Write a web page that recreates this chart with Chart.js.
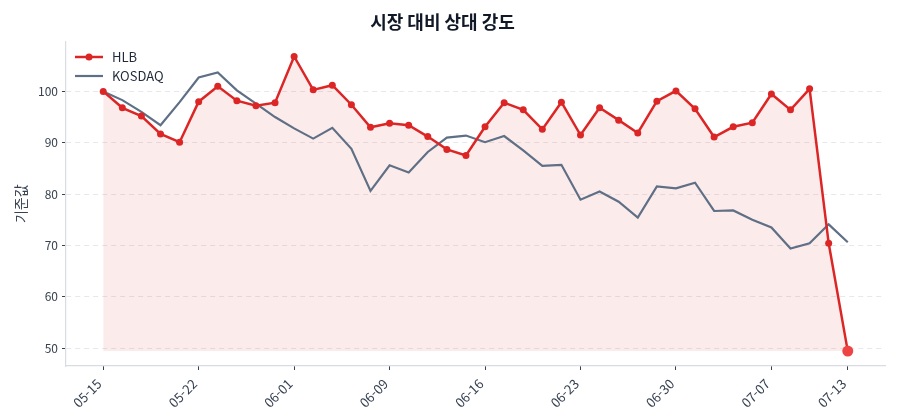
<!DOCTYPE html>
<html lang="ko">
<head>
  <meta charset="UTF-8">
  <title>시장 대비 상대 강도</title>
  <script src="https://cdn.jsdelivr.net/npm/chart.js"></script>
  <style>
    html, body { margin: 0; padding: 0; background: #fff; }
    #wrap { width: 900px; height: 420px; }
  </style>
</head>
<body>
  <div id="wrap"><canvas id="rsChart" width="900" height="420"></canvas></div>

  <script>
    const dates = [
      '05-15', '05-16', '05-17', '05-20', '05-21', '05-22', '05-23', '05-24', '05-27', '05-29',
      '06-01', '06-03', '06-04', '06-05', '06-07', '06-09', '06-10', '06-11', '06-12', '06-13',
      '06-16', '06-17', '06-18', '06-19', '06-20', '06-23', '06-24', '06-25', '06-26', '06-27',
      '06-30', '07-01', '07-02', '07-03', '07-04', '07-07', '07-08', '07-09', '07-10', '07-13'
    ];
    const hlb = [
      100.0, 96.8, 95.2, 91.7, 90.1, 98.0, 101.0, 98.2, 97.2, 97.8,
      106.8, 100.3, 101.2, 97.4, 93.0, 93.8, 93.4, 91.2, 88.7, 87.5,
      93.1, 97.8, 96.4, 92.6, 97.9, 91.5, 96.8, 94.4, 91.9, 98.1,
      100.1, 96.6, 91.1, 93.1, 93.9, 99.5, 96.4, 100.5, 70.4, 49.4
    ];
    const kosdaq = [
      100.0, 98.3, 96.0, 93.4, 97.9, 102.7, 103.7, 100.2, 97.6, 95.0,
      92.8, 90.8, 92.9, 88.8, 80.6, 85.6, 84.2, 88.2, 91.0, 91.4,
      90.1, 91.3, 88.5, 85.5, 85.7, 78.9, 80.5, 78.5, 75.4, 81.5,
      81.1, 82.2, 76.7, 76.8, 75.0, 73.5, 69.4, 70.4, 74.1, 70.6
    ];
    const tickIndex = [0, 5, 10, 15, 20, 25, 30, 35, 39];
    const yTicks = [50, 60, 70, 80, 90, 100];

    const FONT = "'Noto Sans CJK KR', 'Noto Sans', sans-serif";
    const RED = '#dc2626';
    const SLATE = '#5f6f86';
    const last = hlb.length - 1;

    // legend drawn inside the plot area (top-left)
    const innerLegend = {
      id: 'innerLegend',
      afterDraw(chart) {
        const ctx = chart.ctx;
        const items = [
          { label: 'HLB', color: RED, dot: true, y: 57 },
          { label: 'KOSDAQ', color: SLATE, dot: false, y: 76 }
        ];
        ctx.save();
        items.forEach(it => {
          ctx.strokeStyle = it.color;
          ctx.lineWidth = it.dot ? 2.5 : 2.2;
          ctx.beginPath();
          ctx.moveTo(75, it.y);
          ctx.lineTo(103, it.y);
          ctx.stroke();
          if (it.dot) {
            ctx.fillStyle = it.color;
            ctx.beginPath();
            ctx.arc(89, it.y, 3.5, 0, Math.PI * 2);
            ctx.fill();
          }
          ctx.fillStyle = '#1f2937';
          ctx.font = '13px ' + FONT;
          ctx.textBaseline = 'middle';
          ctx.fillText(it.label, 112, it.y);
        });
        ctx.restore();
      }
    };

    const ctx = document.getElementById('rsChart').getContext('2d');
    new Chart(ctx, {
      type: 'line',
      data: {
        datasets: [
          {
            label: 'HLB',
            data: hlb.map((v, i) => ({ x: i, y: v })),
            borderColor: RED,
            borderWidth: 2.5,
            backgroundColor: 'rgba(220, 38, 38, 0.09)',
            fill: { value: Math.min(...hlb) },
            pointRadius: hlb.map((v, i) => i === last ? 5.5 : 3.5),
            pointBackgroundColor: hlb.map((v, i) => i === last ? '#ef4444' : RED),
            pointBorderWidth: 0,
            tension: 0
          },
          {
            label: 'KOSDAQ',
            data: kosdaq.map((v, i) => ({ x: i, y: v })),
            borderColor: SLATE,
            borderWidth: 2.2,
            pointRadius: 0,
            fill: false,
            tension: 0
          }
        ]
      },
      options: {
        responsive: false,
        animation: false,
        layout: { padding: { left: 0, right: 15, top: 0, bottom: 0 } },
        plugins: {
          legend: { display: false },
          tooltip: { enabled: false },
          filler: { drawTime: 'beforeDatasetsDraw' },
          title: {
            display: true,
            text: '시장 대비 상대 강도',
            color: '#111827',
            font: { family: FONT, size: 18, weight: 'bold' },
            padding: { top: 11, bottom: 9 }
          }
        },
        scales: {
          x: {
            type: 'linear',
            min: -1.95,
            max: 40.95,
            afterBuildTicks: axis => { axis.ticks = tickIndex.map(v => ({ value: v })); },
            afterFit: axis => { axis.height = 54; },
            ticks: {
              autoSkip: false,
              maxRotation: 45,
              minRotation: 45,
              padding: 6,
              labelOffset: -4,
              color: '#374151',
              font: { family: FONT, size: 13 },
              callback: v => dates[v]
            },
            grid: {
              drawOnChartArea: false,
              drawTicks: true,
              tickLength: 4,
              tickColor: '#374151'
            },
            border: { color: '#d9dce2', width: 1.2 }
          },
          y: {
            min: 46.5,
            max: 109.7,
            afterBuildTicks: axis => { axis.ticks = yTicks.map(v => ({ value: v })); },
            afterFit: axis => { axis.width = 66; },
            ticks: {
              color: '#374151',
              font: { family: FONT, size: 12 },
              padding: 4
            },
            title: {
              display: true,
              text: '기준값',
              color: '#374151',
              font: { family: FONT, size: 14 },
              padding: { top: 12, bottom: 4 }
            },
            grid: {
              color: '#e8e8ec',
              tickLength: 4,
              tickColor: '#374151',
              tickBorderDash: []
            },
            border: { color: '#d9dce2', width: 1.2, dash: [5, 4] }
          }
        }
      },
      plugins: [innerLegend]
    });
  </script>
</body>
</html>
